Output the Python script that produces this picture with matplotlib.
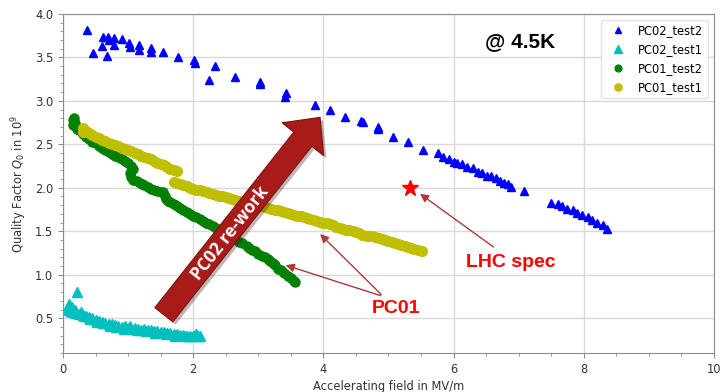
import matplotlib.pyplot as plt
from matplotlib.patches import FancyArrowPatch, ArrowStyle
from matplotlib.ticker import MultipleLocator
import matplotlib.patheffects as pe

# PC02_test2 (blue triangles)
pc02_t2_x = [0.37, 0.46, 0.60, 0.61, 0.67, 0.69, 0.70, 0.78, 0.78, 0.91, 1.02, 1.03, 1.17, 1.17,
             1.35, 1.35, 1.53, 1.76, 2.02, 2.03, 2.25, 2.33, 2.65, 3.03, 3.02, 3.42, 3.41, 3.87,
             4.11, 4.34, 4.58, 4.61, 4.84, 4.84, 5.07, 5.30, 5.53, 5.76, 5.84, 5.93, 6.00, 6.06,
             6.13, 6.21, 6.30, 6.37, 6.44, 6.51, 6.58, 6.65, 6.71, 6.77, 6.84, 6.89, 7.08, 7.50,
             7.60, 7.67, 7.75, 7.83, 7.90, 7.98, 8.06, 8.13, 8.21, 8.29, 8.36]
pc02_t2_y = [3.82, 3.55, 3.63, 3.73, 3.52, 3.73, 3.70, 3.72, 3.64, 3.71, 3.66, 3.62, 3.64, 3.58,
             3.61, 3.56, 3.56, 3.50, 3.47, 3.44, 3.24, 3.40, 3.28, 3.22, 3.19, 3.09, 3.05, 2.95,
             2.89, 2.81, 2.77, 2.76, 2.70, 2.68, 2.59, 2.53, 2.44, 2.40, 2.36, 2.33, 2.30, 2.28,
             2.27, 2.24, 2.23, 2.18, 2.17, 2.14, 2.14, 2.11, 2.08, 2.06, 2.04, 2.01, 1.96, 1.83,
             1.81, 1.79, 1.76, 1.74, 1.71, 1.69, 1.66, 1.63, 1.60, 1.57, 1.53]

# PC02_test1 (cyan triangles)
pc02_t1_x = [0.08, 0.09, 0.10, 0.11, 0.12, 0.14, 0.16, 0.18, 0.20, 0.22, 0.25, 0.28, 0.30, 0.33,
             0.35, 0.40, 0.42, 0.45, 0.50, 0.52, 0.55, 0.60, 0.62, 0.65, 0.70, 0.72, 0.75, 0.80,
             0.82, 0.85, 0.90, 0.93, 0.95, 1.00, 1.03, 1.05, 1.10, 1.13, 1.15, 1.20, 1.25, 1.28,
             1.30, 1.35, 1.40, 1.42, 1.45, 1.50, 1.55, 1.58, 1.60, 1.65, 1.70, 1.72, 1.75, 1.80,
             1.85, 1.88, 1.90, 1.95, 2.00, 2.03, 2.05, 2.08, 2.10]
pc02_t1_y = [0.62, 0.66, 0.60, 0.64, 0.58, 0.63, 0.57, 0.60, 0.56, 0.80, 0.55, 0.57, 0.54, 0.52,
             0.53, 0.51, 0.49, 0.50, 0.48, 0.46, 0.47, 0.46, 0.44, 0.45, 0.43, 0.41, 0.43, 0.42,
             0.40, 0.41, 0.40, 0.38, 0.41, 0.39, 0.41, 0.38, 0.39, 0.37, 0.38, 0.37, 0.38, 0.35,
             0.36, 0.36, 0.35, 0.33, 0.35, 0.34, 0.34, 0.32, 0.33, 0.33, 0.32, 0.30, 0.32, 0.31,
             0.31, 0.29, 0.30, 0.30, 0.29, 0.31, 0.32, 0.29, 0.30]

# PC01_test2 (green circles)
pc01_t2_x = [0.15, 0.16, 0.17, 0.18, 0.20, 0.22, 0.25, 0.30, 0.35, 0.40, 0.45, 0.50, 0.55, 0.60,
             0.65, 0.70, 0.75, 0.80, 0.85, 0.90, 0.95, 1.00, 1.05, 1.07, 1.03, 1.04, 1.08, 1.13,
             1.18, 1.22, 1.25, 1.30, 1.35, 1.40, 1.45, 1.50, 1.54, 1.56, 1.58, 1.62, 1.65, 1.70,
             1.75, 1.80, 1.85, 1.90, 1.95, 2.00, 2.05, 2.10, 2.15, 2.20, 2.25, 2.30, 2.35, 2.42,
             2.45, 2.50, 2.55, 2.60, 2.65, 2.70, 2.75, 2.83, 2.86, 2.90, 2.95, 3.00, 3.05, 3.10,
             3.15, 3.18, 3.22, 3.25, 3.30, 3.35, 3.40, 3.45, 3.50, 3.55, 3.57]
pc01_t2_y = [2.72, 2.78, 2.80, 2.75, 2.70, 2.68, 2.66, 2.62, 2.59, 2.56, 2.53, 2.51, 2.48, 2.46,
             2.43, 2.41, 2.39, 2.37, 2.35, 2.33, 2.31, 2.28, 2.25, 2.22, 2.17, 2.12, 2.09, 2.08,
             2.06, 2.04, 2.03, 2.01, 1.99, 1.98, 1.96, 1.95, 1.95, 1.90, 1.87, 1.85, 1.84, 1.81,
             1.79, 1.77, 1.75, 1.72, 1.70, 1.68, 1.66, 1.64, 1.62, 1.60, 1.58, 1.56, 1.54, 1.51,
             1.50, 1.47, 1.45, 1.43, 1.41, 1.38, 1.36, 1.33, 1.31, 1.29, 1.27, 1.24, 1.22, 1.20,
             1.18, 1.16, 1.13, 1.11, 1.07, 1.05, 1.02, 0.99, 0.96, 0.93, 0.92]

# PC01_test1 (yellow circles)
pc01_t1_x = [0.30, 0.31, 0.35, 0.40, 0.45, 0.50, 0.55, 0.60, 0.65, 0.70, 0.75, 0.80, 0.85, 0.90,
             0.95, 1.00, 1.05, 1.10, 1.15, 1.20, 1.25, 1.30, 1.35, 1.40, 1.45, 1.50, 1.55, 1.60,
             1.65, 1.70, 1.75,
             1.70, 1.75, 1.80, 1.85, 1.90, 1.95, 2.00, 2.05, 2.10, 2.15, 2.21, 2.25, 2.30, 2.35,
             2.40, 2.45, 2.50, 2.55, 2.60, 2.65, 2.70, 2.75, 2.80, 2.85, 2.90, 2.95, 3.03, 3.10,
             3.15, 3.20, 3.25, 3.30, 3.35, 3.40, 3.45, 3.50, 3.55, 3.60, 3.65, 3.70, 3.75, 3.80,
             3.85, 3.90, 3.95, 4.00, 4.05, 4.10, 4.15, 4.20, 4.25, 4.30, 4.35, 4.40, 4.45, 4.50,
             4.55, 4.60, 4.67, 4.70, 4.75, 4.80, 4.85, 4.90, 4.95, 5.00, 5.05, 5.10, 5.15, 5.20,
             5.25, 5.30, 5.35, 5.40, 5.45, 5.52]
pc01_t1_y = [2.69, 2.64, 2.65, 2.63, 2.61, 2.59, 2.57, 2.55, 2.54, 2.52, 2.50, 2.49, 2.48, 2.46,
             2.45, 2.43, 2.42, 2.40, 2.39, 2.37, 2.36, 2.34, 2.33, 2.31, 2.29, 2.27, 2.26, 2.24,
             2.22, 2.21, 2.19,
             2.07, 2.06, 2.04, 2.03, 2.02, 2.00, 1.99, 1.98, 1.97, 1.96, 1.95, 1.94, 1.93, 1.92,
             1.91, 1.90, 1.89, 1.88, 1.87, 1.86, 1.85, 1.84, 1.83, 1.82, 1.81, 1.80, 1.79, 1.78,
             1.77, 1.76, 1.75, 1.74, 1.73, 1.72, 1.71, 1.70, 1.69, 1.68, 1.67, 1.66, 1.65, 1.64,
             1.63, 1.62, 1.61, 1.60, 1.59, 1.58, 1.57, 1.55, 1.54, 1.53, 1.52, 1.51, 1.50, 1.49,
             1.48, 1.46, 1.45, 1.45, 1.44, 1.43, 1.42, 1.41, 1.40, 1.39, 1.38, 1.36, 1.35, 1.34,
             1.33, 1.32, 1.31, 1.30, 1.29, 1.27]

lhc_spec_x = 5.33
lhc_spec_y = 2.0

FS = 8.3
fig = plt.figure(figsize=(7.24, 3.92), dpi=100)
ax = fig.add_axes([0.087, 0.0995, 0.899, 0.865])

ax.plot(pc02_t2_x, pc02_t2_y, "b^", ms=5.5, ls="none", label="PC02_test2", zorder=3)
ax.plot(pc02_t1_x, pc02_t1_y, "c^", ms=7, ls="none", label="PC02_test1", zorder=3)
ax.plot(pc01_t2_x, pc01_t2_y, "go", ms=6.5, ls="none", label="PC01_test2", zorder=3)
ax.plot(pc01_t1_x, pc01_t1_y, "yo", ms=7, ls="none", label="PC01_test1", zorder=3)
ax.plot([lhc_spec_x], [lhc_spec_y], "r*", ms=12, zorder=4)

ax.set_xlim(0, 10)
ax.set_ylim(0.1, 4.0)
ax.xaxis.set_minor_locator(MultipleLocator(0.5))
ax.yaxis.set_minor_locator(MultipleLocator(0.1))
ax.grid(True, which="major", color="#d9d9d9", lw=1)
ax.set_axisbelow(True)
for s in ax.spines.values():
    s.set_color("#8c8c8c")
ax.tick_params(which="major", length=3.5, color="#8c8c8c", labelsize=FS, labelcolor="#333333")
ax.tick_params(which="minor", length=2, color="#8c8c8c")
ax.set_xlabel("Accelerating field in MV/m", fontsize=FS, color="#333333", labelpad=3)
ax.set_ylabel("Quality Factor $Q_0$ in $10^9$", fontsize=FS, color="#333333")

ax.legend(loc="upper right", fontsize=FS, framealpha=0.8, edgecolor="#dddddd", markerscale=0.75)

# annotations
ax.text(7.02, 3.68, "@ 4.5K", fontsize=15, fontweight="bold", family="Liberation Sans",
        ha="center", va="center")
ax.text(6.88, 1.14, "LHC spec", fontsize=14, fontweight="bold", family="Liberation Sans",
        color="red", ha="center", va="center")
ax.text(5.11, 0.61, "PC01", fontsize=14, fontweight="bold", family="Liberation Sans",
        color="red", ha="center", va="center")

arr_kw = dict(arrowstyle="-|>,head_length=0.5,head_width=0.25", color="#b03838", lw=1)
ax.annotate("", xy=(5.45, 1.95), xytext=(6.65, 1.30), arrowprops=arr_kw)
ax.annotate("", xy=(3.38, 1.12), xytext=(4.92, 0.75), arrowprops=arr_kw)
ax.annotate("", xy=(3.92, 1.49), xytext=(4.92, 0.75), arrowprops=arr_kw)

big = FancyArrowPatch((1.55, 0.54), (3.95, 2.81),
                      arrowstyle=ArrowStyle.Simple(head_length=2.0, head_width=3.8, tail_width=1.65),
                      mutation_scale=10, shrinkA=0, shrinkB=0,
                      facecolor="#a91b18", edgecolor="#7a1210", lw=0.8, zorder=5)
big.set_path_effects([pe.SimplePatchShadow(offset=(2, -2), alpha=0.3), pe.Normal()])
ax.add_patch(big)
ax.text(2.57, 1.48, "PC02 re-work", fontsize=12.5, fontweight="bold", family="Open Sans",
        color="white", rotation=51.8, rotation_mode="anchor", ha="center", va="center", zorder=6)

fig.savefig("out.png", dpi=100)
